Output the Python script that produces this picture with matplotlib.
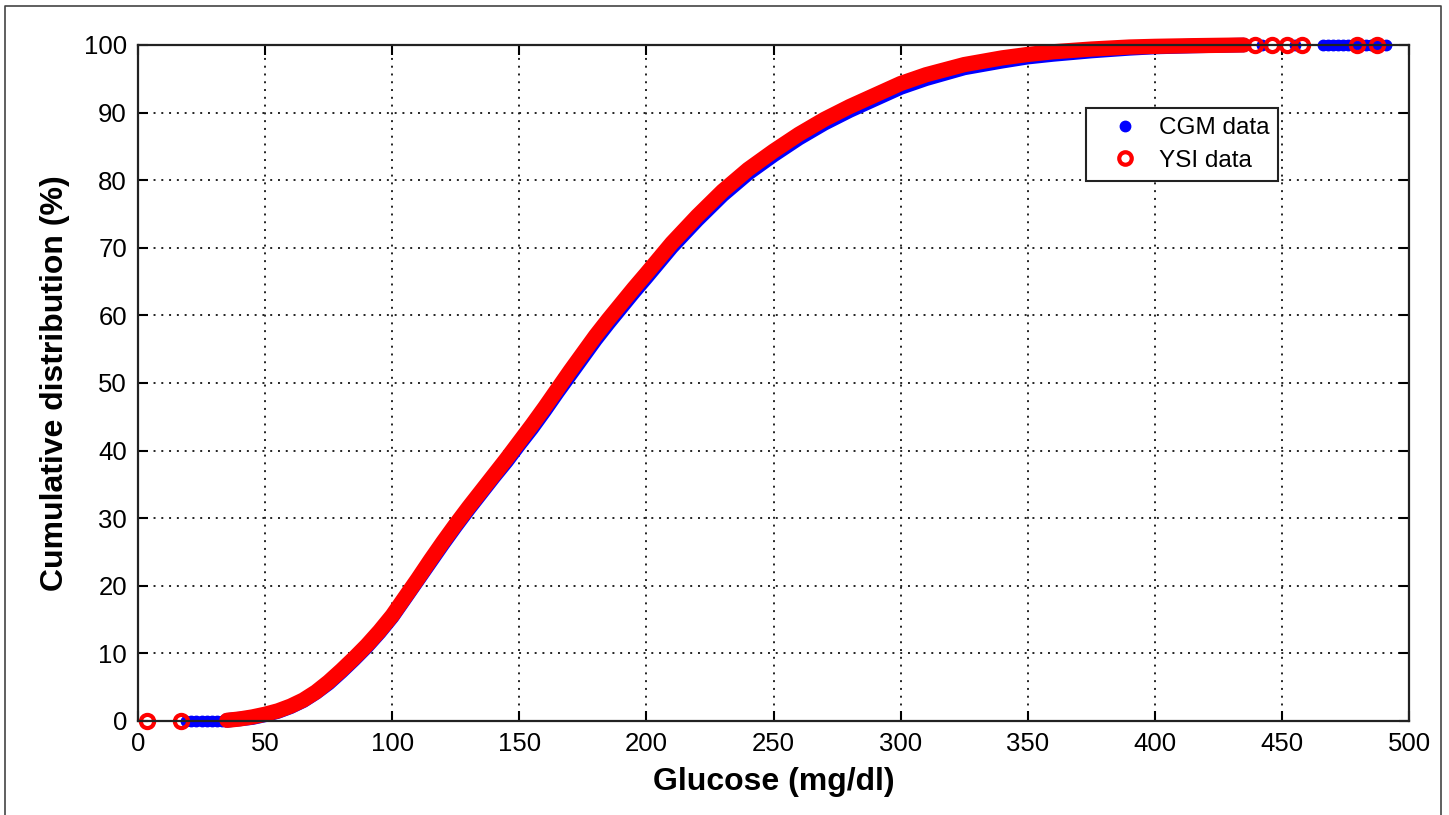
import numpy as np
import matplotlib
matplotlib.use('Agg')
import matplotlib.pyplot as plt
from matplotlib.lines import Line2D

# Cumulative distribution of glucose values
# dense part of each curve (glucose mg/dl -> cumulative %)
ysi_glucose = [35, 40, 45, 50, 55, 60, 65, 70, 75, 80, 85, 90, 95, 100, 105, 110, 115, 120,
               125, 130, 135, 140, 145, 150, 155, 160, 165, 170, 175, 180, 185, 190, 195, 200,
               210, 220, 230, 240, 250, 260, 270, 280, 290, 300, 310, 325, 340, 350, 360,
               375, 390, 400, 415, 435]
ysi_percent = [0.1, 0.3, 0.6, 1.0, 1.5, 2.2, 3.1, 4.3, 5.8, 7.5, 9.3, 11.2, 13.3, 15.6, 18.3,
               21.0, 23.8, 26.5, 29.1, 31.6, 34.0, 36.4, 38.8, 41.3, 43.8, 46.4, 49.1, 51.8,
               54.4, 57.0, 59.4, 61.7, 64.0, 66.2, 70.7, 74.7, 78.4, 81.6, 84.3, 86.8, 89.0,
               90.9, 92.6, 94.3, 95.6, 97.1, 98.1, 98.6, 99.0, 99.4, 99.7, 99.8, 99.9, 100.0]

cgm_glucose = [35, 40, 45, 50, 55, 60, 65, 70, 75, 80, 85, 90, 95, 100, 105, 110, 115, 120,
               125, 130, 135, 140, 145, 150, 155, 160, 165, 170, 175, 180, 185, 190, 195, 200,
               210, 220, 230, 240, 250, 260, 270, 280, 290, 300, 310, 325, 340, 350, 360,
               375, 390, 400, 415, 435]
cgm_percent = [0.1, 0.3, 0.5, 0.9, 1.4, 2.1, 3.0, 4.2, 5.6, 7.3, 9.1, 11.0, 13.1, 15.4, 18.1,
               20.8, 23.5, 26.2, 28.8, 31.3, 33.7, 36.1, 38.4, 40.9, 43.3, 45.9, 48.6, 51.2,
               53.8, 56.4, 58.8, 61.1, 63.4, 65.6, 70.1, 74.1, 77.8, 81.0, 83.7, 86.2, 88.4,
               90.3, 92.0, 93.7, 95.0, 96.6, 97.6, 98.2, 98.6, 99.1, 99.5, 99.7, 99.85, 100.0]

# isolated points at both ends
ysi_tail_glucose = [3.5, 17, 439.5, 446, 452, 458, 479.5, 487.5]
ysi_tail_percent = [0, 0, 100, 100, 100, 100, 100, 100]
cgm_tail_glucose = [19, 21, 23, 25, 27, 29, 31, 33, 442, 455, 466, 468, 470, 472, 474, 476,
                    478, 481, 483, 485, 488, 491]
cgm_tail_percent = [0, 0, 0, 0, 0, 0, 0, 0, 100, 100, 100, 100, 100, 100, 100, 100,
                    100, 100, 100, 100, 100, 100]

plt.rcParams['font.family'] = ['Liberation Sans', 'DejaVu Sans']

fig = plt.figure(figsize=(14.49, 8.15), dpi=100)
ax = fig.add_axes([138 / 1449, 1 - 721 / 815, 1271 / 1449, 676 / 815])

# CGM underneath, YSI on top
ax.plot(cgm_glucose, cgm_percent, color='blue', lw=10.5, solid_capstyle='round', zorder=3,
        clip_on=False)
ax.plot(cgm_tail_glucose, cgm_tail_percent, 'o', color='blue', ms=7.5, mec='blue', zorder=3,
        clip_on=False)
ax.plot(ysi_glucose, ysi_percent, color='red', lw=11, solid_capstyle='round', zorder=4,
        clip_on=False)
ax.plot(ysi_tail_glucose, ysi_tail_percent, 'o', mfc='none', mec='red', mew=3, ms=9.5,
        zorder=4, clip_on=False)

ax.set_xlim(0, 500)
ax.set_ylim(0, 100)
ax.set_xticks(np.arange(0, 501, 50))
ax.set_yticks(np.arange(0, 101, 10))
ax.tick_params(direction='in', length=7, width=1.5, top=True, right=True, labelsize=18.5,
               pad=8)
for s in ax.spines.values():
    s.set_linewidth(1.6)
    s.set_color('#222222')
    s.set_zorder(5)
ax.grid(True, color='#222222', linestyle=(0, (1, 3)), lw=1.4)
ax.set_axisbelow(True)

ax.set_xlabel('Glucose (mg/dl)', fontsize=23, fontweight='bold', labelpad=8)
ax.set_ylabel('Cumulative distribution (%)', fontsize=23, fontweight='bold', labelpad=10)

handles = [Line2D([], [], ls='none', marker='o', color='blue', ms=7.5),
           Line2D([], [], ls='none', marker='o', mfc='none', mec='red', mew=3, ms=9)]
leg = ax.legend(handles, ['CGM data', 'YSI data'], loc='upper left',
                bbox_to_anchor=(0.746, 0.907), fontsize=17.5, frameon=True, fancybox=False,
                edgecolor='#222222', borderpad=0.38, borderaxespad=0, handlelength=2.4,
                handletextpad=0.2, labelspacing=0.44, framealpha=1)
leg.get_frame().set_linewidth(1.5)
leg.set_zorder(6)

# outer frame of the figure (left, top, right sides)
fig.add_artist(Line2D([5 / 1449, 5 / 1449, 1441 / 1449, 1441 / 1449],
                      [0, 1 - 6 / 815, 1 - 6 / 815, 0],
                      transform=fig.transFigure, color='#444444', lw=1.2))

fig.savefig('out.png', dpi=100)
